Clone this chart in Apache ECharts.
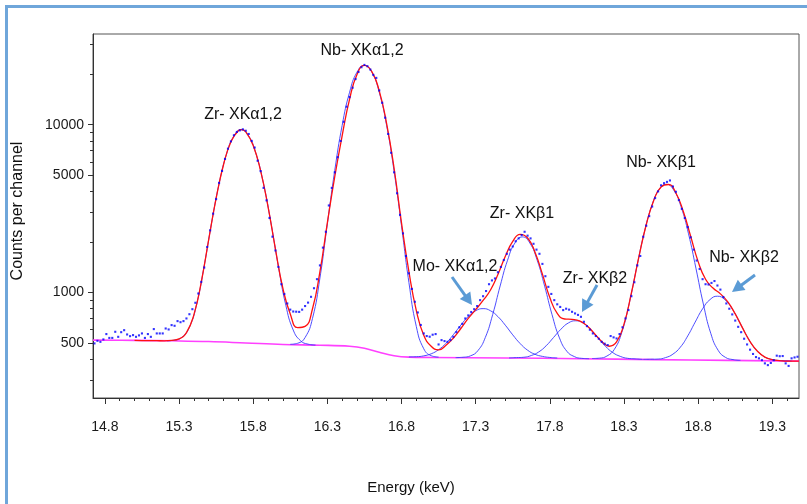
<!DOCTYPE html>
<html><head><meta charset="utf-8">
<script src="https://cdn.jsdelivr.net/npm/echarts@6/dist/echarts.min.js"></script>
<style>html,body{margin:0;padding:0;background:#fff}#c{width:807px;height:504px}</style>
</head><body><div id="c"></div>
<script>
// ---- axis ticks ----
const xMajorTicks = [14.8, 15.3, 15.8, 16.3, 16.8, 17.3, 17.8, 18.3, 18.8, 19.3];
const xMinorTicks = [14.9,15.0,15.1,15.2,15.4,15.5,15.6,15.7,15.9,16.0,16.1,16.2,16.4,16.5,16.6,16.7,16.9,17.0,17.1,17.2,17.4,17.5,17.6,17.7,17.9,18.0,18.1,18.2,18.4,18.5,18.6,18.7,18.9,19.0,19.1,19.2,19.4];
const yMajorTicks = [500, 1000, 5000, 10000];
const yMinorTicks = [300, 400, 600, 700, 800, 900, 2000, 3000, 4000, 6000, 7000, 8000, 9000, 20000, 30000];

// ---- measured spectrum (blue dots), channel grid ----
const dotStart = 14.73, dotStep = 0.02;
const dotCounts = [
 497,515,508,525,565,536,536,583,544,580,
 596,562,549,557,544,555,570,536,565,544,
 605,570,570,570,610,602,639,633,675,665,
 675,700,742,795,868,986,1157,1408,1868,2346,
 2950,3600,4500,5300,6250,7200,7950,8650,9050,9250,
 9380,9200,8800,8000,7300,6100,5290,4200,3540,2780,
 2150,1780,1420,1120,980,860,790,770,768,766,
 790,830,870,942,1060,1200,1450,1850,2300,3300,
 4200,5200,6400,8000,10400,12800,14600,16600,18700,20600,
 22000,22700,22300,21300,19800,19000,16000,13500,11000,8800,
 6800,5200,3900,2900,2250,1650,1300,1050,880,760,
 640,570,550,545,560,565,490,520,513,508,
 520,544,580,620,650,700,730,765,795,830,
 900,950,1020,1120,1180,1212,1320,1420,1560,1700,
 1800,1880,2020,2100,2200,2300,2180,2100,1950,1800,
 1700,1480,1250,1080,980,900,850,820,785,800,
 790,767,750,735,716,669,630,600,570,550,
 530,508,495,486,550,540,532,565,620,700,
 785,950,1150,1450,1650,2150,2500,2850,3250,3650,
 4000,4350,4480,4560,4650,4280,3980,3550,3150,2780,
 2450,2130,1800,1550,1380,1200,1120,1115,1140,1170,
 1100,1040,940,860,800,740,680,624,580,530,
 490,456,430,412,405,395,378,369,380,395,
 420,417,418,378,365,405,410,414
];

// ---- total fit (red) ----
const fitE = [15.00,15.05,15.10,15.15,15.20,15.25,15.30,15.35,15.40,15.45,15.50,15.55,15.60,15.65,15.70,15.72,15.75,15.80,15.85,15.90,15.95,16.00,16.05,16.10,16.15,16.20,16.25,16.30,16.35,16.40,16.45,16.50,16.55,16.60,16.65,16.70,16.75,16.80,16.85,16.90,16.95,17.00,17.05,17.10,17.15,17.20,17.25,17.30,17.35,17.40,17.45,17.50,17.55,17.60,17.65,17.70,17.75,17.80,17.85,17.90,17.95,18.00,18.05,18.10,18.15,18.20,18.25,18.30,18.35,18.40,18.45,18.50,18.55,18.60,18.65,18.70,18.75,18.80,18.85,18.90,18.95,19.00,19.05,19.10,19.15,19.20,19.25,19.30,19.35,19.40,19.45,19.48];
const fitV = [518,517,517,516,515,518,529,577,735,1154,
 2063,3636,5772,7910,9206,9330,9050,7515,5309,3253,1814,
 1060,745,618,628,800,1330,2600,4900,8600,14200,
 19900,22550,20700,15900,10100,5500,2600,1330,780,555,
 478,455,485,535,610,700,790,896,1035,1280,
 1642,2017,2218,2111,1739,1286,933,750,695,691,
 677,634,570,511,478,507,648,993,1623,2532,
 3523,4253,4400,3912,3037,2154,1527,1198,1062,981,
 878,745,613,510,446,412,398,393,390,390,390];

// ---- background (magenta) ----
const bgE = [14.72,15.0,15.25,15.5,15.75,16.0,16.25,16.45,16.55,16.65,16.75,16.85,17.0,17.5,18.0,18.5,19.0,19.48];
const bgV = [520,518,515,510,500,490,485,478,465,440,420,412,410,407,403,398,394,390];

// ---- peak components (blue), 0.05 keV step ----
const compStep = 0.05;
const zrKaStart = 15.22;
const zrKa = [515,520,541,621,860,1446,2610,4444,6667,8573,9331,8570,6660,4433,2595,1427,839,597,515,492,486];
const nbKaStart = 16.05;
const nbKa = [491,498,539,701,1220,2561,5340,9909,15606,20569,22550,20549,15568,9858,5279,2494,1147,626,462,420,412];
const moKaStart = 16.85;
const moKa = [413,414,419,431,456,498,561,639,719,778,801,778,718,638,559,496,453,428,416,410,407];
const zrKb1Start = 17.165;
const zrKb1 = [409,411,419,450,539,740,1093,1556,1973,2143,1972,1555,1091,737,536,446,415,405,403];
const zrKb2Start = 17.525;
const zrKb2 = [407,409,411,421,442,481,539,604,658,678,657,603,536,478,438,416,405,402,399];
const nbKb1Start = 18.085;
const nbKb1 = [404,406,418,458,577,858,1400,2239,3239,4082,4415,4082,3237,2237,1396,854,571,452,410,398,394];
const nbKb2Start = 18.43;
const nbKb2 = [399,400,401,409,429,472,551,666,799,907,950,906,797,663,547,467,423,402,394,392,390];

const components = [[zrKaStart, zrKa],[nbKaStart, nbKa],[moKaStart, moKa],[zrKb1Start, zrKb1],[zrKb2Start, zrKb2],[nbKb1Start, nbKb1],[nbKb2Start, nbKb2]];

// ---- annotation labels ----
const peakLabels = ['Zr- XK\u03b11,2','Nb- XK\u03b11,2','Zr- XK\u03b21','Mo- XK\u03b11,2','Zr- XK\u03b22','Nb- XK\u03b21','Nb- XK\u03b22'];

const FONT = '"Liberation Sans", Arial, sans-serif';
const chart = echarts.init(document.getElementById('c'), null, {renderer:'canvas'});

const series = [];
series.push({type:'line', name:'bg', data: bgE.map((e,i)=>[e,bgV[i]]), smooth:0.4, symbol:'none',
  lineStyle:{color:'#ff40ff', width:1.6}, z:2, silent:true});
components.forEach(([s, vals]) => {
  series.push({type:'line', data: vals.map((v,i)=>[+(s+i*compStep).toFixed(3), v]), smooth:0.5, symbol:'none',
    lineStyle:{color:'#3a3aff', width:1, opacity:0.9}, z:3, silent:true});
});
series.push({type:'line', name:'fit', data: fitE.map((e,i)=>[e,fitV[i]]), smooth:0.5, symbol:'none',
  lineStyle:{color:'#ff1010', width:1.3}, z:4, silent:true});
series.push({type:'scatter', name:'data', data: dotCounts.map((v,i)=>[+(dotStart+i*dotStep).toFixed(3), v]),
  symbol:'rect', symbolSize:2.1, itemStyle:{color:'#0000ff'}, z:5, silent:true});

function arrow(x1,y1,x2,y2){
  const dx=x2-x1, dy=y2-y1, L=Math.hypot(dx,dy), ux=dx/L, uy=dy/L;
  const hl=12, hw=6.5, bx=x2-ux*hl, by=y2-uy*hl;
  const c='#5b9bd5';
  return [
    {type:'line', shape:{x1:x1,y1:y1,x2:bx+ux*1,y2:by+uy*1}, style:{stroke:c, lineWidth:3}, z:100},
    {type:'polygon', shape:{points:[[x2,y2],[bx-uy*hw,by+ux*hw],[bx+uy*hw,by-ux*hw]]}, style:{fill:c}, z:100}
  ];
}
function label(t,x,y){
  return {type:'text', x:x, y:y, z:100, style:{text:t, font:'16px '+FONT, fill:'#111', align:'center', verticalAlign:'middle', textAlign:'center', textVerticalAlign:'middle'}};
}

const graphic = [
  {type:'rect', shape:{x:6.5,y:6.5,width:900,height:600}, style:{fill:'none', stroke:'#6fa6da', lineWidth:3}, z:0},
  label(peakLabels[0], 243, 115),
  label(peakLabels[1], 362, 51),
  label(peakLabels[2], 522, 214),
  label(peakLabels[3], 455, 267),
  label(peakLabels[4], 595, 279),
  label(peakLabels[5], 661, 163),
  label(peakLabels[6], 744, 258),
  ...arrow(452,277,472,305),
  ...arrow(597,285,582,312),
  ...arrow(755,275,732,292),
  {type:'text', x:18, y:211, rotation:Math.PI/2, z:100, style:{text:'Counts per channel', font:'16px '+FONT, fill:'#111', align:'center', verticalAlign:'middle', textAlign:'center', textVerticalAlign:'middle'}},
  {type:'text', x:411, y:488, z:100, style:{text:'Energy (keV)', font:'15px '+FONT, fill:'#111', align:'center', verticalAlign:'middle', textAlign:'center', textVerticalAlign:'middle'}}
];

const xCommon = {type:'value', min:14.72, max:19.48, position:'bottom', splitLine:{show:false}};
const yCommon = {type:'log', logBase:10, min:235, max:34700, position:'left', splitLine:{show:false}, minorTick:{show:false}, minorSplitLine:{show:false}};

chart.setOption({
  animation:false,
  backgroundColor:'#fff',
  grid:{left:93, top:34, width:706, height:364, show:true, borderColor:'#555', borderWidth:1, containLabel:false, outerBoundsMode:'none'},
  xAxis:[
    Object.assign({}, xCommon, {
      axisLine:{show:true, onZero:false, lineStyle:{color:'#333', width:1}},
      axisTick:{show:true, length:6, customValues:xMajorTicks, lineStyle:{color:'#333'}},
      axisLabel:{show:true, customValues:xMajorTicks, formatter:v=>v.toFixed(1), fontSize:14, fontFamily:FONT, color:'#1a1a1a', margin:22}
    }),
    Object.assign({}, xCommon, {
      axisLine:{show:false, onZero:false},
      axisTick:{show:true, length:3, customValues:xMinorTicks, lineStyle:{color:'#333'}},
      axisLabel:{show:false}
    })
  ],
  yAxis:[
    Object.assign({}, yCommon, {
      axisLine:{show:true, onZero:false, lineStyle:{color:'#333', width:1}},
      axisTick:{show:true, length:5, customValues:yMajorTicks, lineStyle:{color:'#333'}},
      axisLabel:{show:true, customValues:yMajorTicks, formatter:v=>String(Math.round(v)), fontSize:14, fontFamily:FONT, color:'#1a1a1a', margin:9}
    }),
    Object.assign({}, yCommon, {
      axisLine:{show:false, onZero:false},
      axisTick:{show:true, length:3, customValues:yMinorTicks, lineStyle:{color:'#333'}},
      axisLabel:{show:false}
    })
  ],
  series: series,
  graphic: graphic
});
</script></body></html>
